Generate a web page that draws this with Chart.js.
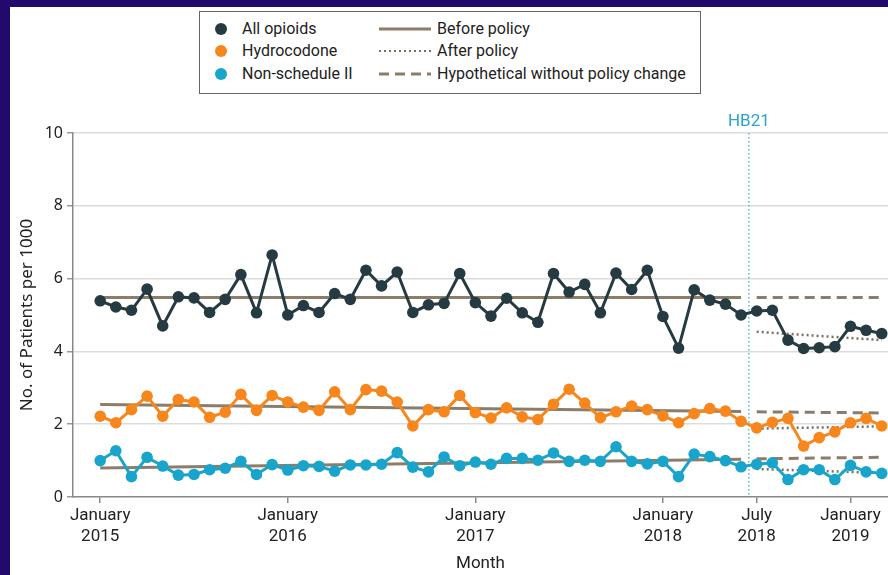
<!DOCTYPE html>
<html>
<head>
<meta charset="utf-8">
<script src="https://cdn.jsdelivr.net/npm/chart.js@4/dist/chart.umd.min.js"></script>
<style>
html, body { margin: 0; padding: 0; }
body { width: 888px; height: 575px; background: #22096c; position: relative; overflow: hidden; }
#panel { position: absolute; left: 10px; top: 7px; width: 878px; height: 568px; background: #fff; }
#chart-section { position: absolute; left: 0; top: 0; }
#legend { position: absolute; left: 189px; top: 4px; width: 500px; height: 81px; border: 1px solid #666; background: #fff;
  font-family: Roboto, sans-serif; font-size: 16px; color: #222; }
#legend .row { position: absolute; height: 20px; line-height: 20px; white-space: nowrap; }
#legend .dot { position: absolute; width: 12px; height: 12px; border-radius: 50%; }
#legend svg { position: absolute; }
</style>
</head>
<body>
<div id="panel">
  <canvas id="chart-section" width="878" height="568"></canvas>
  <div id="legend"></div>
</div>
<script>
// months since January 2015 (0 = Jan 2015, 50 = Mar 2019)
var allOpioids = [5.39,5.22,5.13,5.71,4.70,5.50,5.47,5.07,5.43,6.11,
                  5.06,6.65,5.00,5.26,5.07,5.59,5.43,6.23,5.80,6.18,
                  5.07,5.28,5.32,6.14,5.34,4.97,5.46,5.06,4.80,6.14,
                  5.63,5.84,5.06,6.15,5.70,6.23,4.96,4.09,5.69,5.41,
                  5.30,5.00,5.11,5.13,4.31,4.08,4.10,4.13,4.69,4.58,4.49];
var hydrocodone = [2.22,2.04,2.40,2.77,2.22,2.68,2.61,2.19,2.33,2.82,
                   2.38,2.79,2.61,2.47,2.38,2.89,2.40,2.95,2.91,2.61,
                   1.95,2.40,2.34,2.79,2.32,2.17,2.45,2.20,2.13,2.55,
                   2.96,2.58,2.18,2.34,2.50,2.40,2.23,2.04,2.29,2.43,
                   2.36,2.08,1.90,2.05,2.16,1.40,1.63,1.79,2.04,2.16,1.95];
var nonScheduleII = [1.00,1.27,0.56,1.09,0.85,0.60,0.62,0.75,0.79,0.98,
                     0.62,0.89,0.74,0.86,0.84,0.71,0.88,0.88,0.90,1.22,
                     0.82,0.69,1.10,0.86,0.96,0.90,1.06,1.06,1.01,1.21,
                     0.98,1.01,0.98,1.38,0.98,0.91,0.98,0.56,1.18,1.11,
                     1.00,0.83,0.90,0.94,0.48,0.75,0.75,0.48,0.87,0.69,0.65];

// trend line end points
var beforeMonths = [0, 41];
var afterMonths = [42, 50];
var allBefore = [5.48, 5.48];
var allAfter = [4.54, 4.31];
var allHypo = [5.48, 5.48];
var hydroBefore = [2.54, 2.35];
var hydroAfter = [1.88, 1.94];
var hydroHypo = [2.34, 2.31];
var nonBefore = [0.80, 1.04];
var nonAfter = [0.77, 0.66];
var nonHypo = [1.05, 1.09];

var tickMonths = [0, 12, 24, 36, 42, 48];
var tickLabels = [["January","2015"],["January","2016"],["January","2017"],["January","2018"],["July","2018"],["January","2019"]];
var policyMonth = 41.5;
var policyLabel = "HB21";

var seriesNames = ["All opioids", "Hydrocodone", "Non-schedule II"];
var seriesColors = ["#263b41", "#f7861c", "#19a5cb"];
var trendNames = ["Before policy", "After policy", "Hypothetical without policy change"];
var trendColor = "#8b7d69";
var dottedColor = "#7a6e60";

function pts(values, months) {
	return values.map(function(v, i){ return {x: months ? months[i] : i, y: v}; });
}

function seriesSet(i, values) {
	return {
		label: seriesNames[i], data: pts(values),
		borderColor: seriesColors[i], backgroundColor: seriesColors[i],
		borderWidth: 3, pointRadius: 5.8, pointBorderWidth: 0, pointBackgroundColor: seriesColors[i],
		tension: 0, clip: false
	};
}
function trendSet(values, months, dash, color) {
	return {
		data: pts(values, months), borderColor: color, borderWidth: dash && dash[0] < 4 ? 2.5 : 3,
		borderDash: dash || [], pointRadius: 0, tension: 0
	};
}

var hb21Line = {
	id: 'hb21Line',
	beforeDatasetsDraw: function(chart) {
		var x = chart.scales.x.getPixelForValue(policyMonth);
		var area = chart.chartArea, ctx = chart.ctx;
		ctx.save();
		ctx.strokeStyle = '#5bb6d2';
		ctx.lineWidth = 1.5;
		ctx.setLineDash([1.5, 2.5]);
		ctx.beginPath(); ctx.moveTo(x, area.top); ctx.lineTo(x, area.bottom); ctx.stroke();
		ctx.setLineDash([]);
		ctx.fillStyle = '#2aa5c8';
		ctx.font = '17px Roboto';
		ctx.textAlign = 'center';
		ctx.textBaseline = 'middle';
		ctx.fillText(policyLabel, x, area.top - 11);
		ctx.restore();
	}
};

var canvas = document.getElementById('chart-section').getContext('2d');
window.lineal = new Chart(canvas, {
	type: 'line',
	data: {
		datasets: [
			seriesSet(0, allOpioids),
			seriesSet(1, hydrocodone),
			seriesSet(2, nonScheduleII),
			trendSet(allBefore, beforeMonths, null, trendColor),
			trendSet(hydroBefore, beforeMonths, null, trendColor),
			trendSet(nonBefore, beforeMonths, null, trendColor),
			trendSet(allHypo, afterMonths, [10, 6], trendColor),
			trendSet(hydroHypo, afterMonths, [10, 6], trendColor),
			trendSet(nonHypo, afterMonths, [10, 6], trendColor),
			trendSet(allAfter, afterMonths, [2, 3], dottedColor),
			trendSet(hydroAfter, afterMonths, [2, 3], dottedColor),
			trendSet(nonAfter, afterMonths, [2, 3], dottedColor)
		]
	},
	options: {
		responsive: false,
		animation: false,
		devicePixelRatio: 1,
		layout: { autoPadding: false, padding: { top: 126, left: 0, right: 0, bottom: 0 } },
		plugins: { legend: { display: false }, tooltip: { enabled: false } },
		scales: {
			x: {
				type: 'linear', min: -1.74, max: 50.4,
				afterFit: function(s){ s.height = 78; s.paddingLeft = 0; s.paddingRight = 0; },
				afterBuildTicks: function(s){ s.ticks = tickMonths.map(function(v){ return {value: v}; }); },
				grid: { drawOnChartArea: false, drawTicks: true, tickLength: 6, tickColor: '#888', lineWidth: 1.5 },
				border: { color: '#888', width: 1.5 },
				ticks: {
					autoSkip: false, maxRotation: 0, padding: 3, color: '#222',
					font: { family: 'Roboto', size: 17 },
					callback: function(v){ var i = tickMonths.indexOf(v); return i < 0 ? '' : tickLabels[i]; }
				},
				title: { display: true, text: 'Month', color: '#222', font: { family: 'Roboto', size: 17 }, padding: { top: 0, bottom: 1 } }
			},
			y: {
				min: 0, max: 10,
				afterFit: function(s){ s.width = 63; },
				grid: {
					color: function(c){ return c.tick && c.tick.value === 0 ? 'rgba(0,0,0,0)' : '#dcdcdc'; },
					lineWidth: 1.5, tickLength: 6, tickColor: '#999'
				},
				border: { color: '#888', width: 1.5 },
				ticks: { stepSize: 2, padding: 4, color: '#222', font: { family: 'Noto Sans', size: 16 } },
				title: { display: true, text: 'No. of Patients per 1000', color: '#222', font: { family: 'Noto Sans', size: 17 }, padding: { top: 7, bottom: 0 } }
			}
		}
	},
	plugins: [hb21Line]
});

// legend box
var legend = document.getElementById('legend');
var rowTops = [7, 29, 52];
seriesNames.forEach(function(name, i){
	var dot = document.createElement('div');
	dot.className = 'dot';
	dot.style.background = seriesColors[i];
	dot.style.left = '15px';
	dot.style.top = (rowTops[i] + 4) + 'px';
	legend.appendChild(dot);
	var row = document.createElement('div');
	row.className = 'row';
	row.style.left = '42px';
	row.style.top = rowTops[i] + 'px';
	row.textContent = name;
	legend.appendChild(row);
});
var sampleDash = ['', '2 3', '10 6'];
var sampleColor = [trendColor, dottedColor, trendColor];
var sampleWidth = [3, 2, 3];
trendNames.forEach(function(name, i){
	var svg = document.createElementNS('http://www.w3.org/2000/svg', 'svg');
	svg.setAttribute('width', '54');
	svg.setAttribute('height', '20');
	svg.style.left = '178px';
	svg.style.top = rowTops[i] + 'px';
	var ln = document.createElementNS('http://www.w3.org/2000/svg', 'line');
	ln.setAttribute('x1', '1'); ln.setAttribute('x2', '53');
	ln.setAttribute('y1', '10'); ln.setAttribute('y2', '10');
	ln.setAttribute('stroke', sampleColor[i]);
	ln.setAttribute('stroke-width', sampleWidth[i]);
	if (sampleDash[i]) ln.setAttribute('stroke-dasharray', sampleDash[i]);
	svg.appendChild(ln);
	legend.appendChild(svg);
	var row = document.createElement('div');
	row.className = 'row';
	row.style.left = '237px';
	row.style.top = rowTops[i] + 'px';
	row.textContent = name;
	legend.appendChild(row);
});
</script>
</body>
</html>
